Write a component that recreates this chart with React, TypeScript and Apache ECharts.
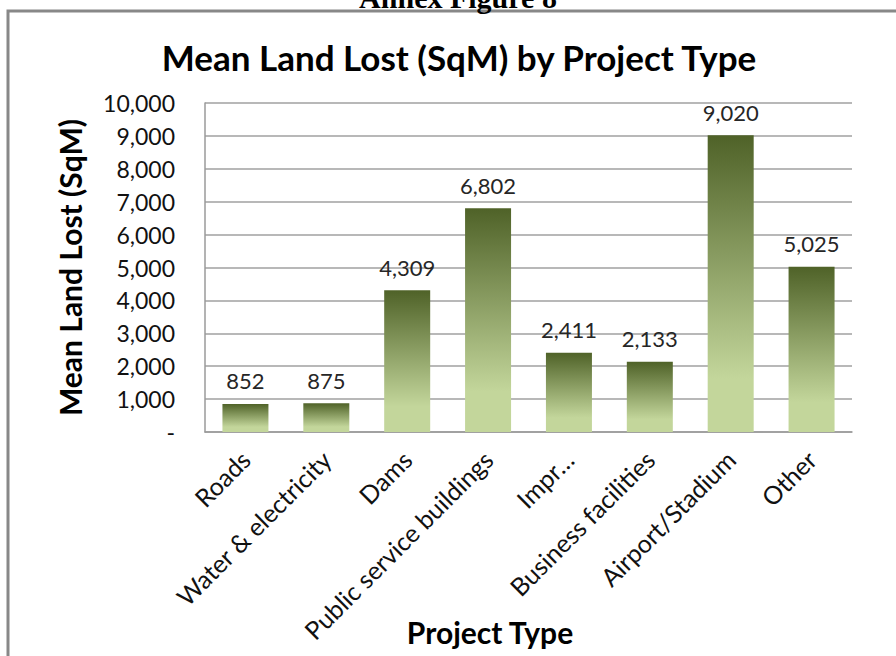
import React, { useEffect, useRef } from "react";
import * as echarts from "echarts";

const categories = [
  "Roads",
  "Water & electricity",
  "Dams",
  "Public service buildings",
  "Impr…",
  "Business facilities",
  "Airport/Stadium",
  "Other",
];
const meanLandLost = [852, 875, 4309, 6802, 2411, 2133, 9020, 5025];
const yTicks = { min: 0, max: 10000, interval: 1000 };

const chartTitle = "Mean Land Lost (SqM) by Project Type";
const figureCaption = "Annex Figure 8";
const yAxisTitle = "Mean Land Lost (SqM)";
const xAxisTitle = "Project Type";

const FONT = "Lato, 'Open Sans', sans-serif";

export default function App() {
  const ref = useRef<HTMLDivElement>(null);
  useEffect(() => {
    if (!ref.current) return;
    const chart = echarts.init(ref.current, null, { renderer: "svg" });
    chart.setOption({
      animation: false,
      backgroundColor: "#ffffff",
      grid: { left: 205, right: 44, top: 103, bottom: 224, containLabel: false },
      xAxis: {
        type: "category",
        data: categories,
        axisLine: { show: true, lineStyle: { color: "#9a9a9a", width: 1.5 } },
        axisTick: { show: false },
        axisLabel: {
          interval: 0,
          rotate: 45,
          margin: 23,
          color: "#111",
          fontFamily: FONT,
          fontSize: 25,
        },
      },
      yAxis: {
        type: "value",
        min: yTicks.min,
        max: yTicks.max,
        interval: yTicks.interval,
        name: yAxisTitle,
        nameLocation: "middle",
        nameGap: 120,
        nameTextStyle: {
          fontFamily: FONT,
          fontWeight: "bold",
          fontSize: 30,
          color: "#000",
        },
        axisLine: { show: true, lineStyle: { color: "#9a9a9a", width: 1.5 } },
        axisTick: { show: false },
        splitLine: { show: true, lineStyle: { color: "#a0a0a0", width: 1.5 } },
        axisLabel: {
          margin: 30,
          color: "#111",
          fontFamily: FONT,
          fontSize: 23,
          formatter: (v: number) =>
            v === 0 ? "-" : v.toLocaleString("en-US"),
        },
      },
      series: [
        {
          type: "bar",
          data: meanLandLost,
          barWidth: 46,
          itemStyle: {
            color: new echarts.graphic.LinearGradient(0, 0, 0, 1, [
              { offset: 0, color: "#4F6228" },
              { offset: 0.82, color: "#C3D69B" },
              { offset: 1, color: "#C3D69B" },
            ]),
          },
          label: {
            show: true,
            position: "top",
            distance: 12,
            color: "#262626",
            fontFamily: FONT,
            fontSize: 22,
            formatter: (p: any) => Number(p.value).toLocaleString("en-US"),
          },
        },
      ],
      graphic: [
        {
          type: "rect",
          shape: { x: 8, y: 11, width: 1000, height: 1000 },
          style: { fill: "none", stroke: "#888888", lineWidth: 3 },
          silent: true,
        },
        {
          type: "text",
          x: 458,
          y: 12,
          style: {
            text: figureCaption,
            align: "center",
            verticalAlign: "bottom",
            font: "bold 30px 'Liberation Serif', 'Times New Roman', serif",
            fill: "#000",
          },
        },
        {
          type: "text",
          x: 459,
          y: 57,
          style: {
            text: chartTitle,
            align: "center",
            verticalAlign: "middle",
            font: `bold 35px ${FONT}`,
            fill: "#000",
          },
        },
        {
          type: "text",
          x: 490,
          y: 632,
          style: {
            text: xAxisTitle,
            align: "center",
            verticalAlign: "middle",
            font: `bold 30px ${FONT}`,
            fill: "#000",
          },
        },
      ],
    });
    return () => chart.dispose();
  }, []);
  return (
    <div
      ref={ref}
      style={{ position: "fixed", left: 0, top: 0, width: 896, height: 656 }}
    />
  );
}
